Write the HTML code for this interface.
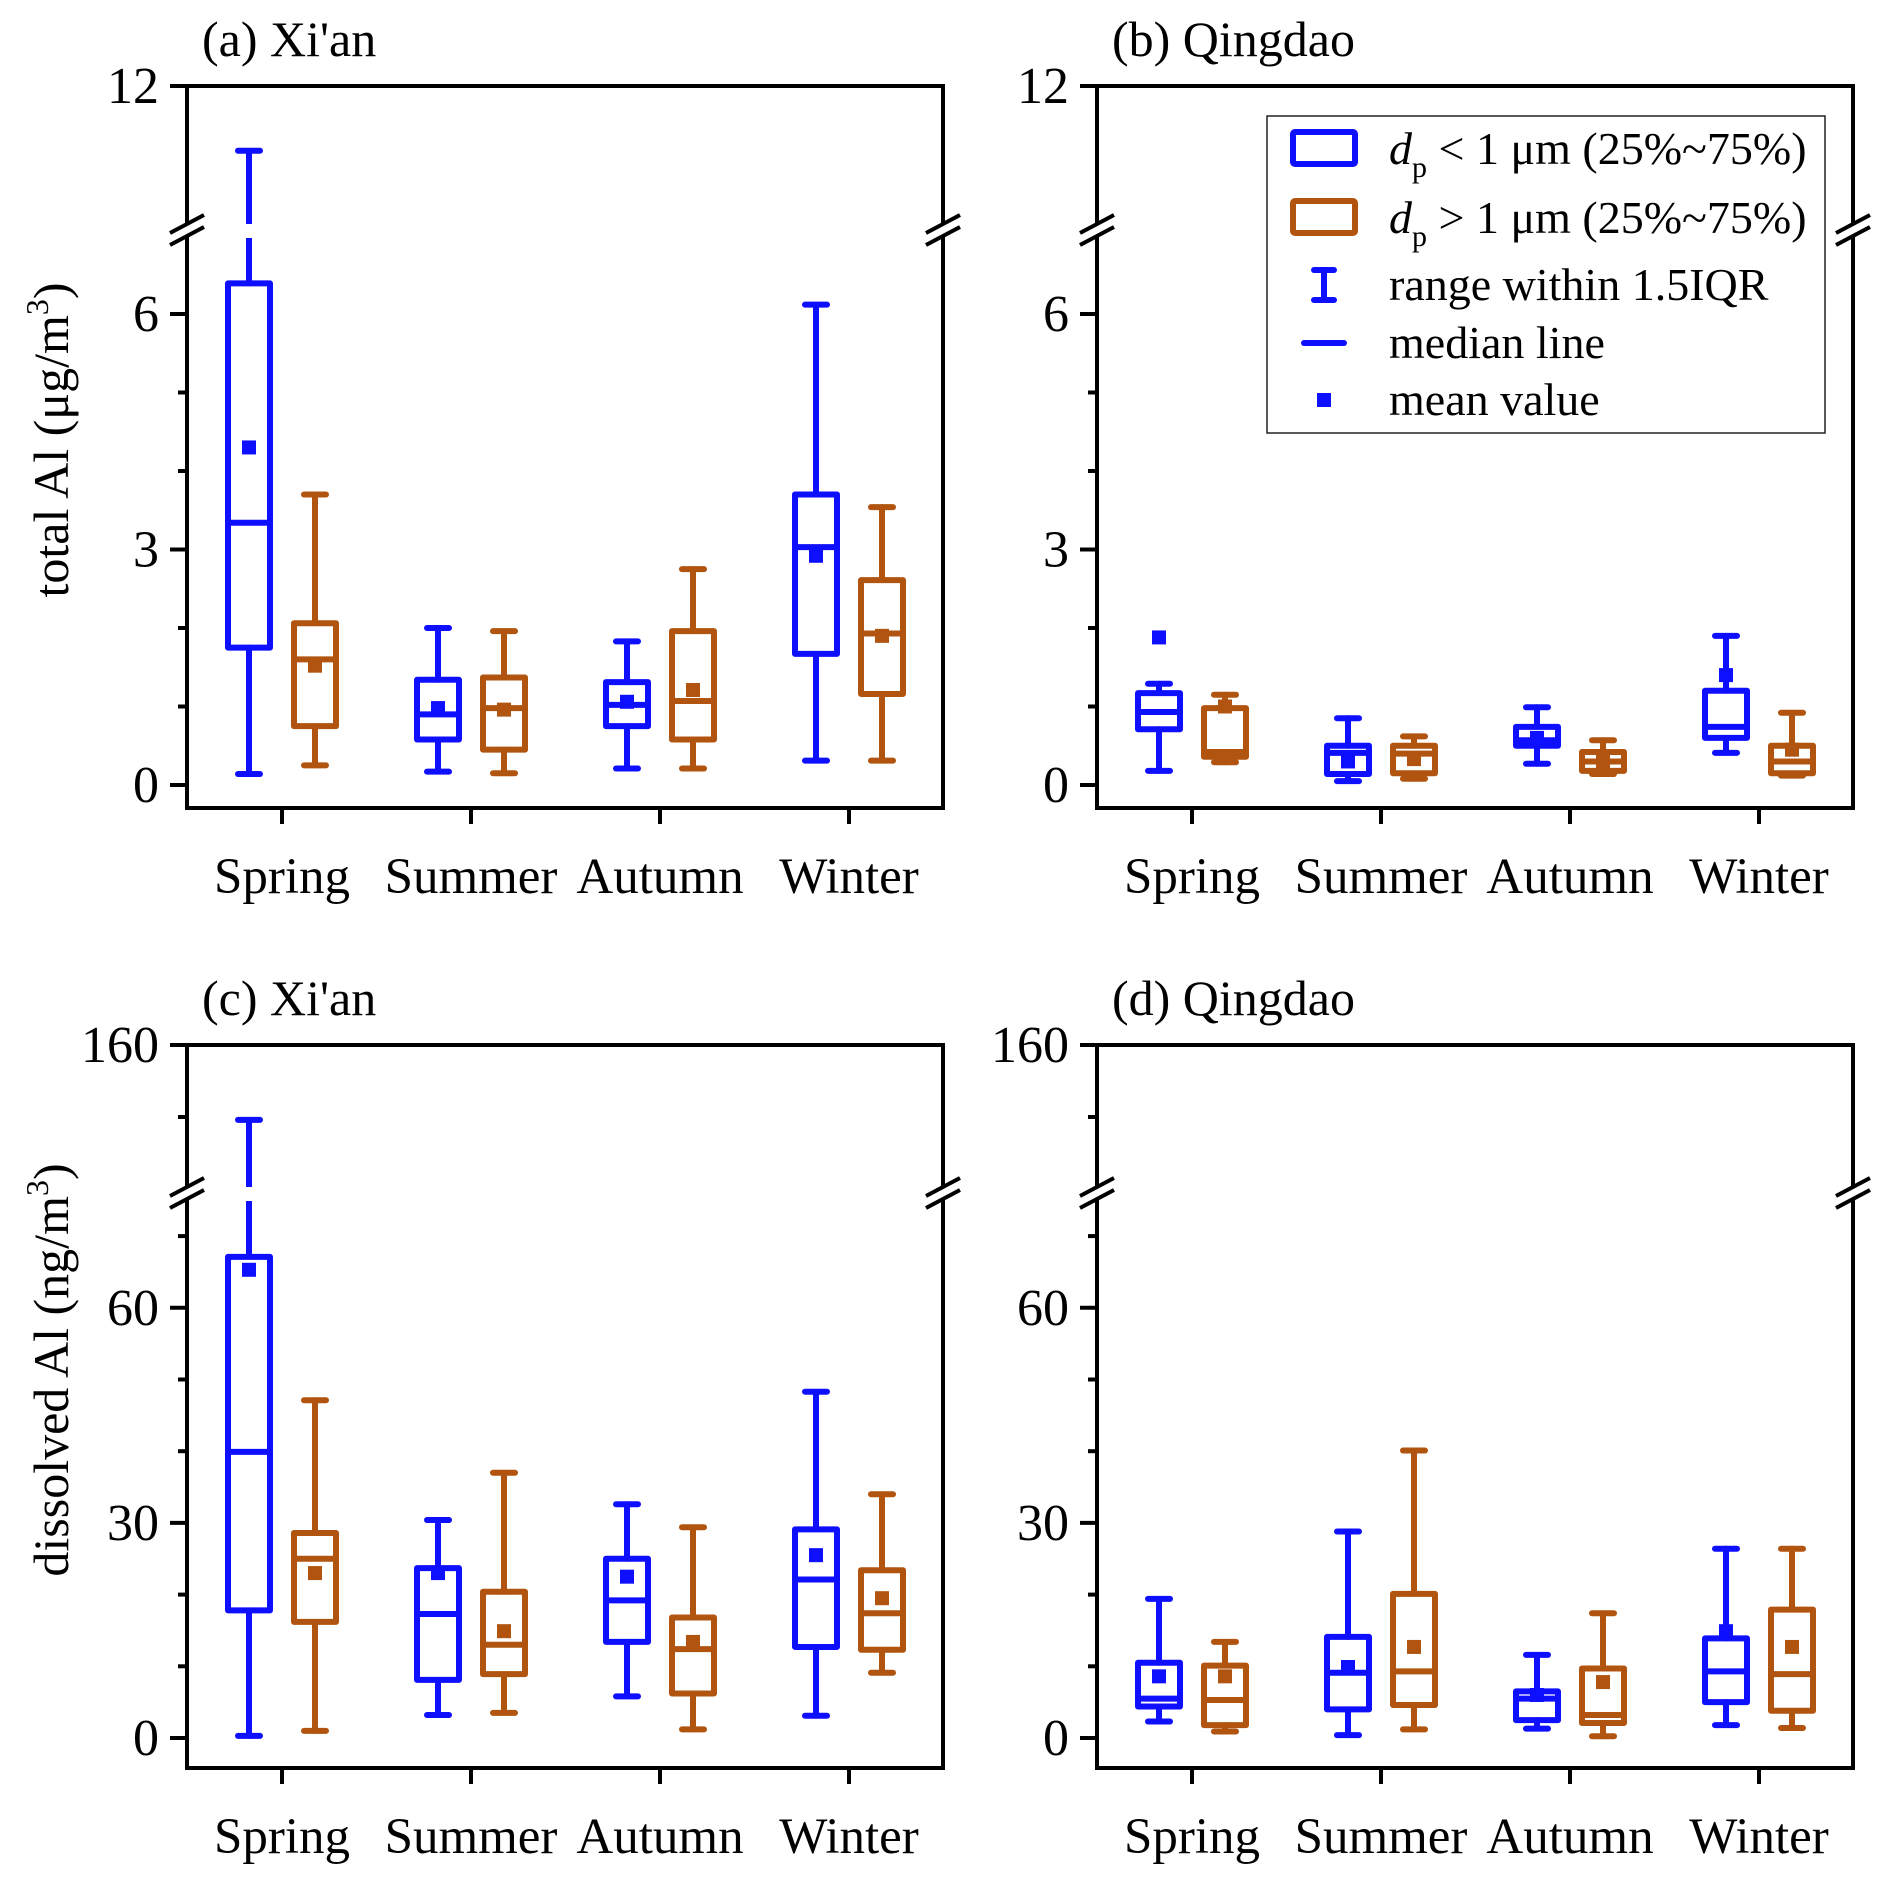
<!DOCTYPE html>
<html><head><meta charset="utf-8"><style>
html,body{margin:0;padding:0;background:#fff}
svg{display:block;font-family:"Liberation Serif","DejaVu Serif",serif}
</style></head><body>
<svg id="chart" xmlns="http://www.w3.org/2000/svg" width="1892" height="1882" viewBox="0 0 1892 1882">
<rect x="0" y="0" width="1892" height="1882" fill="#fff"/>
</svg>
<script>
const categories = ["Spring","Summer","Autumn","Winter"];
// Panel a: total Al Xi'an (µg/m3)
const aBlueLow=[0.14,0.17,0.21,0.31], aBlueQ1=[1.75,0.58,0.75,1.67], aBlueMed=[3.34,0.9,1.02,3.03], aBlueQ3=[6.39,1.34,1.31,3.70], aBlueHigh=[10.2,2.0,1.83,6.12], aBlueMean=[4.30,0.98,1.06,2.92];
const aOrLow=[0.25,0.15,0.21,0.31], aOrQ1=[0.75,0.45,0.58,1.16], aOrMed=[1.60,0.98,1.07,1.93], aOrQ3=[2.06,1.37,1.96,2.61], aOrHigh=[3.70,1.96,2.75,3.54], aOrMean=[1.52,0.96,1.21,1.90];
// Panel b: total Al Qingdao
const bBlueLow=[0.18,0.05,0.27,0.41], bBlueQ1=[0.71,0.14,0.50,0.60], bBlueMed=[0.93,0.41,0.57,0.74], bBlueQ3=[1.17,0.50,0.74,1.20], bBlueHigh=[1.29,0.85,0.99,1.90], bBlueMean=[1.88,0.30,0.60,1.40];
const bOrLow=[0.29,0.08,0.14,0.12], bOrQ1=[0.36,0.15,0.18,0.15], bOrMed=[0.42,0.40,0.30,0.30], bOrQ3=[0.98,0.50,0.42,0.50], bOrHigh=[1.15,0.62,0.57,0.92], bOrMean=[1.0,0.33,0.30,0.45];
// Panel c: dissolved Al Xi'an (ng/m3)
const cBlueLow=[0.3,3.2,5.8,3.1], cBlueQ1=[17.8,8.1,13.4,12.7], cBlueMed=[39.9,17.3,19.2,22.1], cBlueQ3=[67.1,23.7,25.0,29.1], cBlueHigh=[139.2,30.4,32.6,48.3], cBlueMean=[65.3,23.0,22.5,25.5];
const cOrLow=[1.0,3.5,1.2,9.1], cOrQ1=[16.2,8.9,6.2,12.3], cOrMed=[25.0,13.0,12.4,17.4], cOrQ3=[28.6,20.4,16.8,23.4], cOrHigh=[47.1,37.0,29.4,34.0], cOrMean=[23.0,14.9,13.4,19.5];
// Panel d: dissolved Al Qingdao
const dBlueLow=[2.3,0.4,1.3,1.8], dBlueQ1=[4.4,4.0,2.5,5.0], dBlueMed=[5.5,9.1,5.5,9.3], dBlueQ3=[10.5,14.1,6.5,13.9], dBlueHigh=[19.4,28.8,11.6,26.4], dBlueMean=[8.6,9.9,6.0,14.9];
const dOrLow=[0.9,1.2,0.25,1.4], dOrQ1=[1.8,4.6,2.1,3.8], dOrMed=[5.3,9.3,3.2,8.9], dOrQ3=[10.1,20.1,9.7,17.9], dOrHigh=[13.4,40.1,17.4,26.4], dOrMean=[8.6,12.7,7.8,12.7];
const topTicksA=[{v:0,l:"0"},{v:3,l:"3"},{v:6,l:"6"},{v:12,l:"12"}];
const minorTicksA=[1,2,4,5];
const topTicksC=[{v:0,l:"0"},{v:30,l:"30"},{v:60,l:"60"},{v:160,l:"160"}];
const minorTicksC=[10,20,40,50,70,140];

const NS="http://www.w3.org/2000/svg";
const svg=document.getElementById('chart');
const BLUE="#0f0fff", ORANGE="#b0540f";
function mk(tag,attrs,parent){const e=document.createElementNS(NS,tag);for(const k in attrs)e.setAttribute(k,attrs[k]);(parent||svg).appendChild(e);return e;}

function makeY(s){return function(v){ if(v<=s.lowMax) return s.y0 - v*s.k; return s.yUp - (v-s.upMin)*s.ku; };}

function panel(p){
  const g=mk('g',{});
  
  
  const Y=makeY(p.sc);
  const L=p.left,R=p.left+756,T=p.top,B=p.bottom;
  const xTick=i=>L+95+i*189;
  const fr=mk('rect',{x:L,y:T,width:R-L,height:B-T,fill:'none',stroke:'#000','stroke-width':4},g);
  
  
  p.major.forEach(t=>{
    const y=Y(t.v);
    const tk=mk('line',{x1:L-17,x2:L,y1:y,y2:y,stroke:'#000','stroke-width':4},g);
    
    
    const tx=mk('text',{x:L-28,y:y+17,'font-size':52,'text-anchor':'end',fill:'#000'},g);
    tx.textContent=t.l;
    
    
  });
  p.minor.forEach(v=>{
    const y=Y(v);
    const tk=mk('line',{x1:L-9,x2:L,y1:y,y2:y,stroke:'#000','stroke-width':4},g);
    
    
  });
  categories.forEach((c,i)=>{
    const x=xTick(i);
    const tk=mk('line',{x1:x,x2:x,y1:B,y2:B+16,stroke:'#000','stroke-width':4},g);
    
    
    const tx=mk('text',{x:x,y:B+85,'font-size':51,'text-anchor':'middle',fill:'#000'},g);
    tx.textContent=c;
    
    
  });
  const yb=p.sc.yBreak;
  [L,R].forEach(ax=>{
    mk('rect',{x:ax-4,y:yb-6,width:8,height:12,fill:'#fff'},g);
    [-6,6].forEach(d=>{
      const bl=mk('line',{x1:ax-17,y1:yb+d+9,x2:ax+17,y2:yb+d-9,stroke:'#000','stroke-width':4},g);
      
      
    });
  });
  const series=[{col:BLUE,off:-33,d:p.blue,nm:'fine'},{col:ORANGE,off:33,d:p.orange,nm:'coarse'}];
  series.forEach(s=>{
    categories.forEach((c,i)=>{
      const cx=xTick(i)+s.off;
      const bg=mk('g',{},g);
      
      
      const lo=Y(s.d.low[i]),q1=Y(s.d.q1[i]),md=Y(s.d.med[i]),q3=Y(s.d.q3[i]),hi=Y(s.d.high[i]),mn=Y(s.d.mean[i]);
      const st={stroke:s.col,'stroke-width':6,'stroke-linecap':'round'};
      if(s.d.high[i]>p.sc.lowMax){
        mk('line',Object.assign({x1:cx,x2:cx,y1:q3,y2:yb+8},st,{'stroke-linecap':'butt'}),bg);
        mk('line',Object.assign({x1:cx,x2:cx,y1:yb-6,y2:hi},st,{'stroke-linecap':'butt'}),bg);
      } else {
        mk('line',Object.assign({x1:cx,x2:cx,y1:q3,y2:hi},st),bg);
      }
      mk('line',Object.assign({x1:cx,x2:cx,y1:q1,y2:lo},st),bg);
      mk('line',Object.assign({x1:cx-11,x2:cx+11,y1:hi,y2:hi},st),bg);
      mk('line',Object.assign({x1:cx-11,x2:cx+11,y1:lo,y2:lo},st),bg);
      mk('rect',{x:cx-21,y:q3,width:42,height:Math.max(q1-q3,1),fill:'none',stroke:s.col,'stroke-width':6,'stroke-linejoin':'round'},bg);
      mk('line',{x1:cx-21,x2:cx+21,y1:md,y2:md,stroke:s.col,'stroke-width':6},bg);
      mk('rect',{x:cx-7,y:mn-7,width:14,height:14,fill:s.col},bg);
    });
  });
  const tt=mk('text',{x:L+15,y:T-30,'font-size':50,fill:'#000'},g);
  tt.textContent=p.title;
  
  
}
function pack(low,q1,med,q3,high,mean){return {low:low,q1:q1,med:med,q3:q3,high:high,mean:mean};}
const scA={y0:785,k:78.5,lowMax:7,yUp:230,upMin:8,ku:36,yBreak:230};
const scC={y0:1738,k:7.17,lowMax:76,yUp:1189,upMin:120,ku:3.6,yBreak:1193};
panel({name:'panel-a-xian-total',title:"(a) Xi'an",left:187,top:86,bottom:808,sc:scA,major:topTicksA,minor:minorTicksA,
  blue:pack(aBlueLow,aBlueQ1,aBlueMed,aBlueQ3,aBlueHigh,aBlueMean),orange:pack(aOrLow,aOrQ1,aOrMed,aOrQ3,aOrHigh,aOrMean)});
panel({name:'panel-b-qingdao-total',title:"(b) Qingdao",left:1097,top:86,bottom:808,sc:scA,major:topTicksA,minor:minorTicksA,
  blue:pack(bBlueLow,bBlueQ1,bBlueMed,bBlueQ3,bBlueHigh,bBlueMean),orange:pack(bOrLow,bOrQ1,bOrMed,bOrQ3,bOrHigh,bOrMean)});
panel({name:'panel-c-xian-dissolved',title:"(c) Xi'an",left:187,top:1045,bottom:1768,sc:scC,major:topTicksC,minor:minorTicksC,
  blue:pack(cBlueLow,cBlueQ1,cBlueMed,cBlueQ3,cBlueHigh,cBlueMean),orange:pack(cOrLow,cOrQ1,cOrMed,cOrQ3,cOrHigh,cOrMean)});
panel({name:'panel-d-qingdao-dissolved',title:"(d) Qingdao",left:1097,top:1045,bottom:1768,sc:scC,major:topTicksC,minor:minorTicksC,
  blue:pack(dBlueLow,dBlueQ1,dBlueMed,dBlueQ3,dBlueHigh,dBlueMean),orange:pack(dOrLow,dOrQ1,dOrMed,dOrQ3,dOrHigh,dOrMean)});
</script>
<svg style="position:absolute;left:0;top:0" width="1892" height="1882" xmlns="http://www.w3.org/2000/svg" font-family="Liberation Serif, DejaVu Serif, serif">
  <text transform="translate(68,440) rotate(-90)" text-anchor="middle" font-size="50">total Al (μg/m<tspan font-size="32" dy="-20">3</tspan><tspan dy="20">)</tspan></text>
  <text transform="translate(68,1370) rotate(-90)" text-anchor="middle" font-size="50">dissolved Al (ng/m<tspan font-size="32" dy="-20">3</tspan><tspan dy="20">)</tspan></text>
  <g>
    <rect x="1267" y="116" width="558" height="317" fill="#fff" stroke="#222" stroke-width="1.5"/>
    <rect x="1293" y="132" width="62" height="32" fill="none" stroke="#0f0fff" stroke-width="6" rx="2"/>
    <text x="1389" y="164" font-size="46"><tspan font-style="italic">d</tspan><tspan font-size="30" dy="13">p</tspan><tspan dy="-13"> &lt; 1 μm (25%~75%)</tspan></text>
    <rect x="1293" y="201" width="62" height="32" fill="none" stroke="#b0540f" stroke-width="6" rx="2"/>
    <text x="1389" y="233" font-size="46"><tspan font-style="italic">d</tspan><tspan font-size="30" dy="13">p</tspan><tspan dy="-13"> &gt; 1 μm (25%~75%)</tspan></text>
    <g stroke="#0f0fff" stroke-width="6" stroke-linecap="round">
      <line x1="1314" x2="1334" y1="270" y2="270"/><line x1="1314" x2="1334" y1="300" y2="300"/><line x1="1324" x2="1324" y1="270" y2="300"/>
    </g>
    <text x="1389" y="300" font-size="46">range within 1.5IQR</text>
    <line x1="1304" x2="1344" y1="343" y2="343" stroke="#0f0fff" stroke-width="6" stroke-linecap="round"/>
    <text x="1389" y="358" font-size="46">median line</text>
    <rect x="1317" y="393" width="14" height="14" fill="#0f0fff"/>
    <text x="1389" y="415" font-size="46">mean value</text>
  </g>
</svg>
</body></html>
